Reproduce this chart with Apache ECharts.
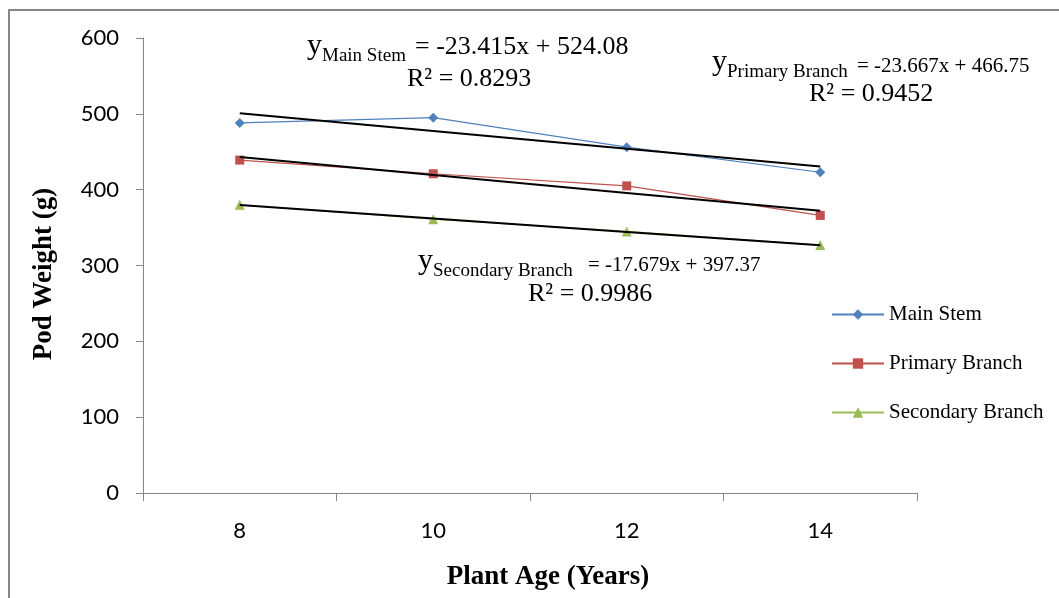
<!DOCTYPE html>
<html>
<head>
<meta charset="utf-8">
<script src="https://cdn.jsdelivr.net/npm/echarts@6/dist/echarts.min.js"></script>
<style>
html,body{margin:0;padding:0;background:#fff;}
#chart{width:1059px;height:598px;}
</style>
</head>
<body>
<div id="chart"></div>
<script>
// ---- data ----
const categories = ['8', '10', '12', '14'];
const mainStem = [488, 495, 456, 423];
const primaryBranch = [439, 421, 405, 366];
const secondaryBranch = [380, 361, 345, 327];
const seriesNames = ['Main Stem', 'Primary Branch', 'Secondary Branch'];
const trendSlopes = [-23.415, -23.667, -17.679];
const trendIntercepts = [524.08, 466.75, 397.37];
const rSquared = ['0.8293', '0.9452', '0.9986'];
const yMin = 0, yMax = 600, yInterval = 100;

// trend lines from the displayed regression equations (x = 1..n)
function trend(k) {
  return categories.map((c, i) => +(trendIntercepts[k] + trendSlopes[k] * (i + 1)).toFixed(3));
}
function eqText(k) {
  const s = trendSlopes[k], b = trendIntercepts[k];
  return '= ' + s + 'x + ' + b;
}

const serif = '"Liberation Serif","Times New Roman",serif';
const sans = 'Lato, Carlito, Calibri, sans-serif';
const colors = ['#4F81BD', '#C0504D', '#9BBB59'];
const symbols = ['diamond', 'rect', 'triangle'];
const symbolSizes = [10, 9, 10];
const dataSets = [mainStem, primaryBranch, secondaryBranch];

const series = [];
dataSets.forEach((d, k) => {
  series.push({
    name: seriesNames[k], type: 'line', data: d,
    symbol: symbols[k], symbolSize: symbolSizes[k], showSymbol: true,
    lineStyle: { color: colors[k], width: 1.2 },
    itemStyle: { color: colors[k] },
    z: 2, animation: false
  });
});
dataSets.forEach((d, k) => {
  series.push({
    name: 'trend' + k, type: 'line', data: trend(k),
    symbol: 'none', lineStyle: { color: '#000', width: 2 },
    silent: true, z: 3, animation: false
  });
});

function txt(x, y, text, size, extra) {
  return Object.assign({
    type: 'text', x: x, y: y, silent: true,
    style: { text: text, font: size + 'px ' + serif, fill: '#000', align: 'left', verticalAlign: 'middle' }
  }, extra || {});
}
function bold(x, y, text, size, rot) {
  return {
    type: 'text', x: x, y: y, rotation: rot || 0, silent: true,
    style: { text: text, font: 'bold ' + size + 'px ' + serif, fill: '#000', align: 'center', verticalAlign: 'middle' }
  };
}

const graphics = [
  { type: 'rect', shape: { x: 9, y: 10, width: 1200, height: 800 }, style: { fill: 'none', stroke: '#868686', lineWidth: 2 }, silent: true, z: -1 },
  // Main Stem equation
  txt(307, 46, 'y', 30),
  txt(322, 56.5, seriesNames[0], 19),
  txt(415, 47.5, eqText(0), 26),
  txt(407, 79, 'R² = ' + rSquared[0], 26),
  // Primary Branch equation
  txt(712, 62.5, 'y', 30),
  txt(727, 72.5, seriesNames[1], 19),
  txt(857, 66, eqText(1), 21),
  txt(809, 94, 'R² = ' + rSquared[1], 26),
  // Secondary Branch equation
  txt(418, 261, 'y', 30),
  txt(433, 271.5, seriesNames[2], 19),
  txt(588, 265, eqText(2), 21),
  txt(528, 294, 'R² = ' + rSquared[2], 26),
  // axis titles
  bold(44, 274, 'Pod Weight (g)', 27, Math.PI / 2),
  bold(548, 577, 'Plant Age (Years)', 27)
];

const chart = echarts.init(document.getElementById('chart'));
chart.setOption({
  animation: false,
  backgroundColor: '#fff',
  grid: { left: 143, right: 142, top: 38, bottom: 105, containLabel: false },
  legend: {
    data: seriesNames, orient: 'vertical', left: 826, top: 299,
    itemWidth: 52, itemHeight: 13, itemGap: 28,
    textStyle: { fontFamily: serif, fontSize: 21, color: '#000' }
  },
  xAxis: {
    type: 'category', data: categories, boundaryGap: true,
    axisLine: { lineStyle: { color: '#868686', width: 1 } },
    axisTick: { show: true, interval: 0, length: 8, lineStyle: { color: '#868686' } },
    axisLabel: { fontFamily: sans, fontSize: 22, color: '#000', margin: 27 },
    splitLine: { show: false }
  },
  yAxis: {
    type: 'value', min: yMin, max: yMax, interval: yInterval,
    axisLine: { show: true, lineStyle: { color: '#868686', width: 1 } },
    axisTick: { show: true, length: 7, lineStyle: { color: '#868686' } },
    axisLabel: { fontFamily: sans, fontSize: 22, color: '#000', margin: 24 },
    splitLine: { show: false }
  },
  series: series,
  graphic: graphics
});
</script>
</body>
</html>
